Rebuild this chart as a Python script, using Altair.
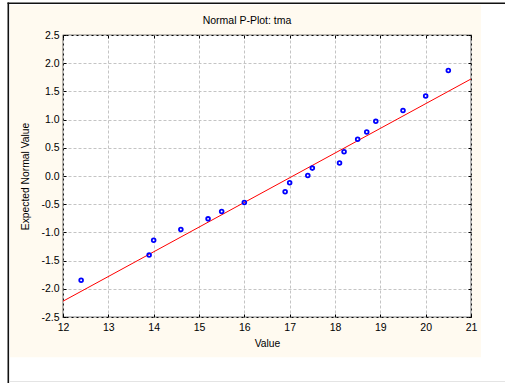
import altair as alt
import pandas as pd

# ---- data ----
values = [12.4, 13.9, 14.0, 14.6, 15.2, 15.5, 16.0, 16.9, 17.0, 17.4,
          17.5, 18.1, 18.2, 18.5, 18.7, 18.9, 19.5, 20.0, 20.5]
expected = [-1.85, -1.40, -1.14, -0.95, -0.76, -0.63, -0.47, -0.28, -0.12, 0.01,
            0.14, 0.23, 0.43, 0.65, 0.78, 0.97, 1.16, 1.42, 1.87]
line_x = [12.0, 21.0]
line_y = [-2.22, 1.72]
x_ticks = [12, 13, 14, 15, 16, 17, 18, 19, 20, 21]
y_ticks = [-2.5, -2.0, -1.5, -1.0, -0.5, 0.0, 0.5, 1.0, 1.5, 2.0, 2.5]

pts = pd.DataFrame({"Value": values, "Expected": expected})
fit = pd.DataFrame({"Value": line_x, "Expected": line_y})
dummy = pd.DataFrame({"d": [0]})

W, H = 408, 282
FONT = "Liberation Sans"
GRID = "#c4c4c4"
xscale = alt.Scale(domain=[12, 21], nice=False, zero=False)
yscale = alt.Scale(domain=[-2.5, 2.5], nice=False, zero=False)
ylabel = "(datum.value < 0 ? '-' : '') + format(abs(datum.value), '.1f')"

fit_layer = alt.Chart(fit).mark_line(color="#ff0000", strokeWidth=1).encode(
    x=alt.X("Value:Q", scale=xscale, axis=alt.Axis(
        orient="bottom", values=x_ticks, grid=True, gridColor=GRID,
        gridDash=[3, 2], gridWidth=1, domain=False, ticks=True, tickSize=3,
        tickColor="black", offset=-3, labelPadding=5, labelFontSize=10.5,
        labelFont=FONT, labelColor="black", labelFlush=False,
        title="Value", titleFont=FONT,
        titleFontSize=10.3, titleFontWeight="normal", titleColor="black",
        titlePadding=6)),
    y=alt.Y("Expected:Q", scale=yscale, axis=alt.Axis(
        orient="left", values=y_ticks, grid=True, gridColor=GRID,
        gridDash=[3, 2], gridWidth=1, domain=False, ticks=True, tickSize=3,
        tickColor="black", offset=-3, labelPadding=4, labelFontSize=10.5,
        labelFont=FONT, labelColor="black", labelExpr=ylabel, labelFlush=False,
        title="Expected Normal Value", titleFont=FONT, titleFontSize=10.3,
        titleFontWeight="normal", titleColor="black", titlePadding=10)),
)

pt_layer = alt.Chart(pts).mark_point(
    shape="circle", filled=False, color="#0000ff", size=14, strokeWidth=1.8,
    opacity=1
).encode(
    x=alt.X("Value:Q", scale=xscale, axis=alt.Axis(
        orient="top", values=x_ticks, grid=False, domain=False, labels=False,
        ticks=True, tickSize=3, tickColor="black", offset=-3, title=None)),
    y=alt.Y("Expected:Q", scale=yscale, axis=alt.Axis(
        orient="right", values=y_ticks, grid=False, domain=False, labels=False,
        ticks=True, tickSize=3, tickColor="black", offset=-3, title=None)),
)


def strip(x1, x2, y1, y2, color="white"):
    return alt.Chart(dummy).mark_rect(color=color).encode(
        x=alt.value(x1), x2=alt.value(x2), y=alt.value(y1), y2=alt.value(y2))


def rule(x1, x2, y1, y2, color, w):
    return alt.Chart(dummy).mark_rule(color=color, strokeWidth=w).encode(
        x=alt.value(x1), x2=alt.value(x2), y=alt.value(y1), y2=alt.value(y2))


deco = [
    strip(418, 442, -35, 348),   # right margin outside panel
    strip(-63, 442, 322.3, 348),  # bottom margin outside panel
    strip(-63, 442, -35, -30),   # top margin
    strip(-63, -53, -35, 348),   # left margin
    rule(-55.5, 442, -31.7, -31.7, "#111111", 1.6),
    rule(-54.7, -54.7, -32.5, 348, "#111111", 1.6),
    rule(-54, 442, 346.5, 346.5, "#e4e4e4", 1),
]

chart = alt.layer(*deco, fit_layer, pt_layer).resolve_axis(
    x="independent", y="independent"
).properties(
    width=W, height=H,
    title=alt.TitleParams("Normal P-Plot: tma", font=FONT, fontSize=10.5,
                          fontWeight="normal", color="black", anchor="middle",
                          frame="group", baseline="alphabetic", offset=0,
                          dx=-20, dy=34.5),
    background="#fffaf0",
    padding={"left": 63, "top": 35, "right": 34, "bottom": 66},
    autosize=alt.AutoSizeParams(type="none"),
).configure_view(fill="white", stroke="black", strokeWidth=1.2)

chart.save("out.html", embed_options={"renderer": "svg", "actions": False})
